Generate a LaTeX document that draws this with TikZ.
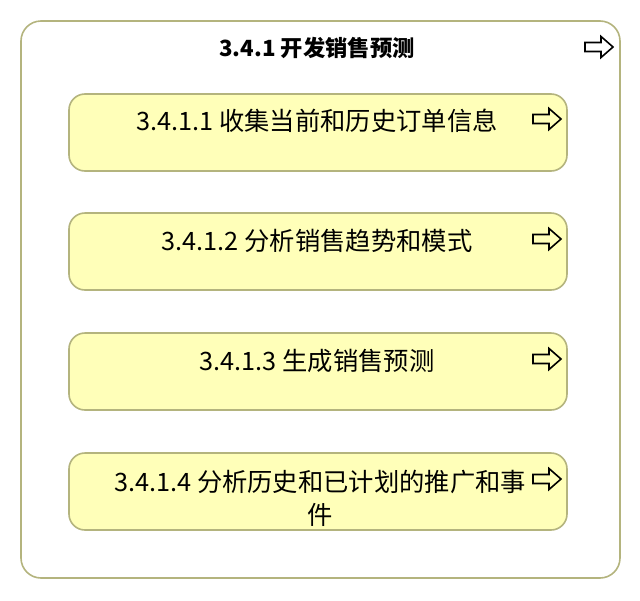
\documentclass[tikz,border=0pt]{standalone}
\usepackage{fontspec}
\setmainfont{Noto Sans CJK SC}
\usetikzlibrary{positioning}
\definecolor{edgeol}{HTML}{B4B47E}
\definecolor{fillyel}{HTML}{FFFFB9}
\tikzset{
  outerbox/.style={draw=edgeol, line width=1.6pt, fill=white, rounded corners=20pt},
  stepbox/.style={draw=edgeol, line width=1.6pt, fill=fillyel, rounded corners=16pt},
  boxtext/.style={font=\fontsize{25.3}{33}\selectfont, align=center, inner sep=0pt},
  titletext/.style={font=\bfseries\fontsize{22.3}{26}\selectfont, inner sep=0pt},
  hollowarrow/.pic={
    \draw[black, line width=1.6pt, line join=miter]
      (0,-4.5) -- (16,-4.5) -- (16,-10.5) -- (28,0) -- (16,10.5) -- (16,4.5) -- (0,4.5) -- cycle;
  }
}
\begin{document}
\begin{tikzpicture}[x=1pt,y=-1pt]
\useasboundingbox (0,0) rectangle (640,600);
\path[outerbox] (21,21) rectangle (620,578);
\node[titletext] (title) at (317,48) {3.4.1 开发销售预测};
\pic at (585,47) {hollowarrow};

\path[stepbox] (69,94) rectangle (567,171);
\node[boxtext] (b1) at (317,121) {3.4.1.1 收集当前和历史订单信息};
\pic at (533,119) {hollowarrow};

\path[stepbox] (69,213) rectangle (567,290);
\node[boxtext] (b2) at (317,241) {3.4.1.2 分析销售趋势和模式};
\pic at (533,239) {hollowarrow};

\path[stepbox] (69,333) rectangle (567,410);
\node[boxtext] (b3) at (317,361) {3.4.1.3 生成销售预测};
\pic at (533,359) {hollowarrow};

\path[stepbox] (69,453) rectangle (567,530);
\node[boxtext] (b4) at (320,498) {3.4.1.4 分析历史和已计划的推广和事\\件};
\pic at (533,479) {hollowarrow};
\end{tikzpicture}
\end{document}
